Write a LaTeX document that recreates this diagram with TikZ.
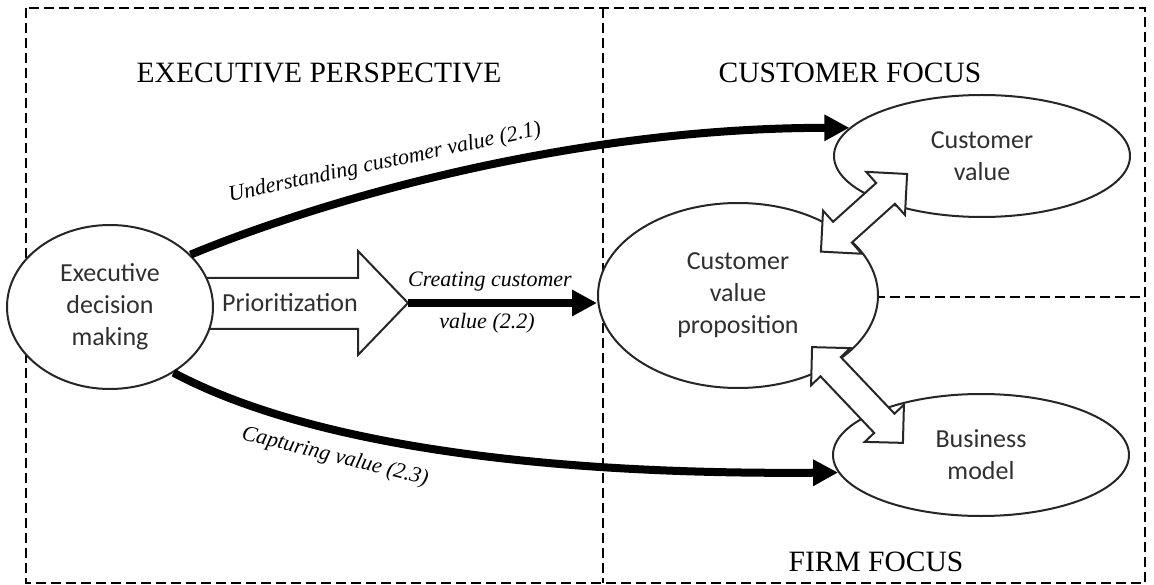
\documentclass[tikz,border=0pt]{standalone}
\usepackage{fontspec}
\setmainfont{Liberation Serif}
\newfontfamily\calfont{Carlito}
\usetikzlibrary{shapes.geometric,arrows.meta}
\definecolor{edge}{HTML}{262626}
\definecolor{ink}{HTML}{303030}
\tikzset{
  box/.style={line width=2.6pt, dash pattern=on 10pt off 5pt},
  oval/.style={ellipse, draw=edge, line width=2pt, fill=white, inner sep=0pt,
    align=center, text=ink, font=\calfont\fontsize{26}{32}\selectfont},
  heading/.style={font=\fontsize{29.5}{32}\selectfont, inner sep=0pt},
  flowlabel/.style={font=\itshape\fontsize{22}{26}\selectfont, inner sep=0pt},
  thickarrow/.style={line width=8pt, -{Triangle[length=25pt,width=25pt]}},
  blockarrow/.style={draw=edge, line width=2pt, fill=white, line join=miter},
}
\newcommand{\dblblock}[4]{% center, angle, half length, head
  \begin{scope}[shift={#1}, rotate=#2]
    \path[blockarrow] (-#3,0) -- (-#3+#4,#4) -- (-#3+#4,14) -- (#3-#4,14) -- (#3-#4,#4)
      -- (#3,0) -- (#3-#4,-#4) -- (#3-#4,-14) -- (-#3+#4,-14) -- (-#3+#4,-#4) -- cycle;
  \end{scope}}
\begin{document}
\begin{tikzpicture}[x=1pt,y=-1pt]
\useasboundingbox (0,0) rectangle (1154,585);
% frames
\draw[box] (26,8) rectangle (1145,583);
\draw[box] (603,8) -- (603,583);
\draw[box] (860,297) -- (1145,297);
% headings
\node[heading, anchor=base] (hexec) at (319,83) {EXECUTIVE PERSPECTIVE};
\node[heading, anchor=base] (hcust) at (850,83) {CUSTOMER FOCUS};
\node[heading, anchor=base] (hfirm) at (876,571) {FIRM FOCUS};
% prioritization block arrow
\coordinate (ptip) at (408,303);
\path[blockarrow] (150,278) -- (358,278) -- (358,251) -- (ptip) -- (358,355) -- (358,329) -- (150,329) -- cycle;
\node[font=\calfont\fontsize{26}{32}\selectfont, text=ink] (prio) at (290,303) {Prioritization};
% ellipses
\node[oval, minimum width=206pt, minimum height=164pt] (exec) at (110,307) {Executive\\decision\\making};
\node[oval, minimum width=280pt, minimum height=185pt] (cvp) at (738,295.5) {Customer\\value\\proposition};
\node[oval, minimum width=296pt, minimum height=122pt] (cv) at (982,156) {Customer\\value};
\node[oval, minimum width=296pt, minimum height=122pt] (bm) at (981,455) {Business\\model};
% thick connectors
\draw[thickarrow] (exec.33) .. controls (310,205) and (560,128) .. (cv.168);
\draw[thickarrow] (exec.-46) .. controls (300,440) and (520,475) .. (bm.187);
\draw[thickarrow] (ptip) -- (ptip -| cvp.west);
% labels
\node[flowlabel, rotate=12] (l1) at (385,163) {Understanding customer value (2.1)};
\node[flowlabel, rotate=-14] (l3) at (335,457) {Capturing value (2.3)};
\node[flowlabel] (l2a) at (490,282) {Creating customer};
\node[flowlabel] (l2b) at (487,323) {value (2.2)};
% double block arrows
\dblblock{(864,212.8)}{42}{58}{29}
\dblblock{(857.5,395)}{-46.5}{66}{27}
\end{tikzpicture}
\end{document}
